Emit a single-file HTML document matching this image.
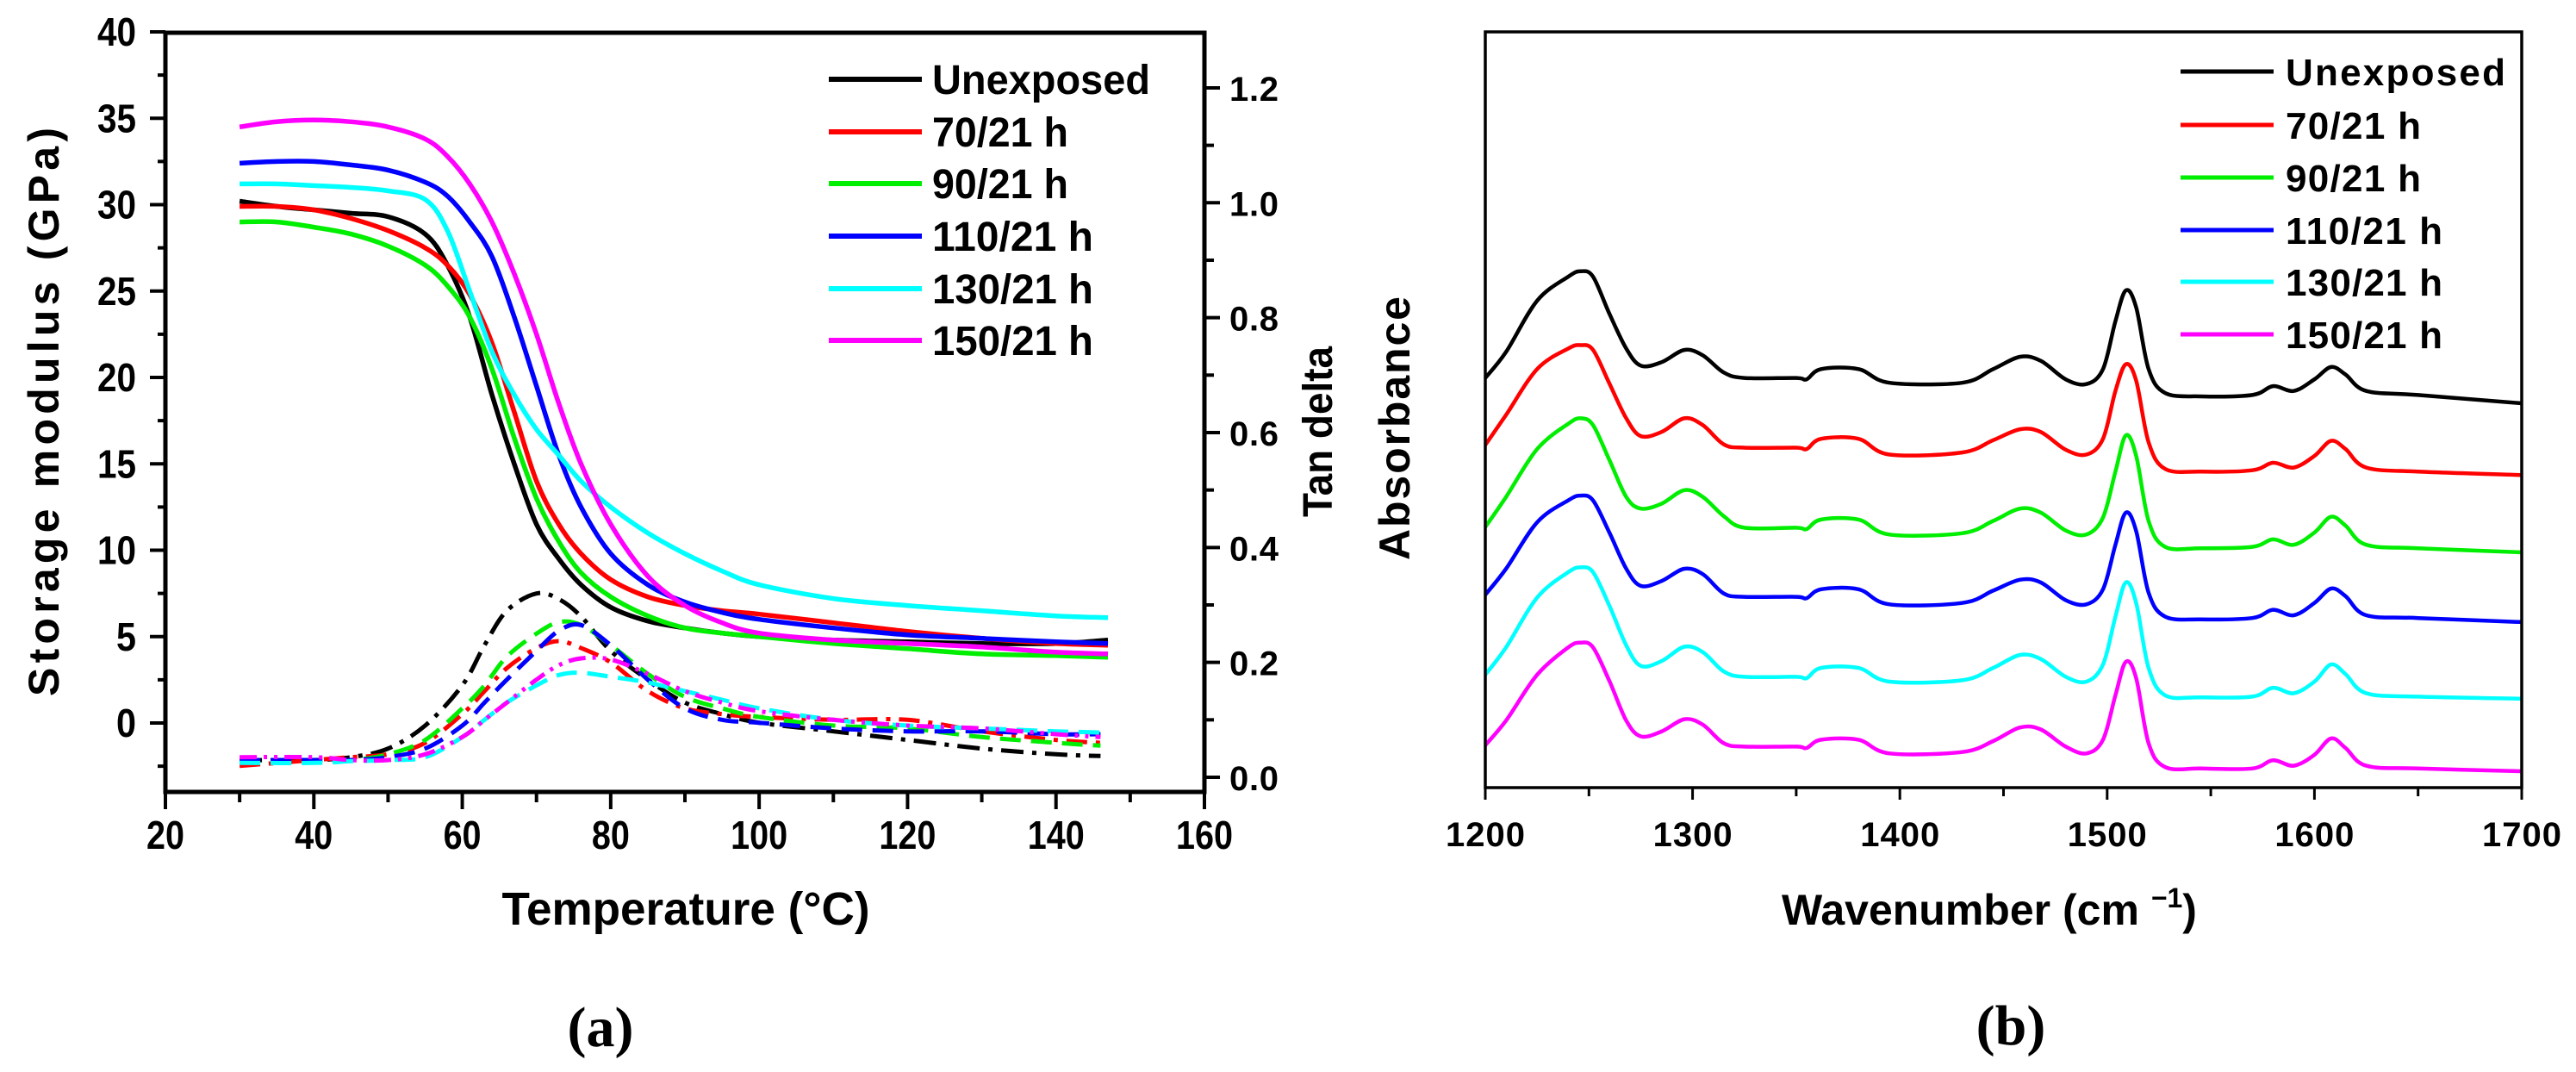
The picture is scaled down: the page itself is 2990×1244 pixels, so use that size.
<!DOCTYPE html>
<html><head><meta charset="utf-8"><style>
html,body{margin:0;padding:0;background:#fff;}
svg{display:block;}
.nar{font-family:"Liberation Sans Narrow","Liberation Sans",sans-serif;font-weight:bold;}
.wid{font-family:"Liberation Sans",sans-serif;font-weight:bold;}
.ser{font-family:"Liberation Serif",serif;font-weight:bold;}
</style></head><body>
<svg id="fig" width="2990" height="1244" viewBox="0 0 2990 1244" xmlns="http://www.w3.org/2000/svg">
<g id="chartA"></g>
<g id="chartB"></g>
</svg>
<script>
// ---------- Chart (a) data ----------
const seriesNames = ["Unexposed","70/21 h","90/21 h","110/21 h","130/21 h","150/21 h"];
const seriesColors = ["#000000","#ff0000","#00ee00","#0000ff","#00ffff","#ff00ff"];
const modTemps = [30,35,40,45,50,55,58,61,64,67,70,73,76,80,85,90,95,100,110,120,130,140,147];
const modUnexposed = [30.2,29.9,29.7,29.5,29.3,28.3,26.5,23.5,19,15,11.5,9.5,8,6.7,5.9,5.5,5.2,5.0,4.8,4.7,4.6,4.6,4.8];
const mod70 = [29.9,29.9,29.7,29.2,28.5,27.5,26.5,24.8,22,18,14,11.5,9.8,8.3,7.3,6.8,6.5,6.3,5.8,5.3,4.9,4.6,4.5];
const mod90 = [29.0,29.0,28.7,28.3,27.6,26.5,25.3,23.5,20.5,16.5,13,10.5,8.7,7.3,6.2,5.5,5.2,5.0,4.6,4.3,4.0,3.9,3.8];
const mod110 = [32.4,32.5,32.5,32.3,32.0,31.3,30.5,29,27,23.5,19.5,15.5,12.5,9.8,8,7,6.4,6.0,5.5,5.1,4.9,4.7,4.6];
const mod130 = [31.2,31.2,31.1,31.0,30.8,30.3,28.5,25,21.5,19,17,15.5,14,12.5,11,9.8,8.8,8.0,7.2,6.8,6.5,6.2,6.1];
const mod150 = [34.5,34.8,34.9,34.8,34.5,33.8,32.8,31.2,29,26,22.5,18.5,15,11.5,8.5,6.8,5.8,5.2,4.8,4.6,4.4,4.1,4.0];
const tanTemps = [30,40,45,50,55,60,63,66,70,73,76,80,85,90,95,100,110,120,130,140,146];
const tanUnexposed = [0.03,0.03,0.035,0.05,0.09,0.16,0.23,0.29,0.32,0.31,0.28,0.22,0.17,0.13,0.11,0.095,0.08,0.065,0.05,0.04,0.037];
const tan70 = [0.02,0.03,0.035,0.04,0.06,0.11,0.15,0.19,0.225,0.237,0.225,0.20,0.15,0.12,0.11,0.105,0.10,0.10,0.08,0.065,0.06];
const tan90 = [0.028,0.03,0.03,0.04,0.065,0.12,0.16,0.21,0.25,0.27,0.265,0.23,0.18,0.14,0.12,0.105,0.09,0.085,0.07,0.06,0.055];
const tan110 = [0.03,0.03,0.03,0.035,0.05,0.09,0.13,0.17,0.22,0.255,0.265,0.23,0.17,0.12,0.10,0.095,0.085,0.08,0.08,0.075,0.075];
const tan130 = [0.025,0.025,0.028,0.03,0.035,0.07,0.10,0.13,0.16,0.178,0.182,0.175,0.165,0.15,0.135,0.12,0.10,0.09,0.085,0.08,0.078];
const tan150 = [0.035,0.035,0.03,0.03,0.04,0.07,0.10,0.13,0.17,0.195,0.207,0.205,0.18,0.15,0.13,0.115,0.10,0.09,0.085,0.075,0.07];
const xTicksA = [20,40,60,80,100,120,140,160];
const yTicksA = [0,5,10,15,20,25,30,35,40];
const tanTicks = ["0.0","0.2","0.4","0.6","0.8","1.0","1.2"];

// ---------- Chart (b) data ----------
const wavenumbers = [1200,1210,1225,1240,1246,1252,1260,1268,1275,1285,1296,1305,1315,1325,1350,1355,1362,1380,1395,1430,1445,1458,1468,1480,1490,1498,1504,1509,1514,1520,1528,1545,1570,1580,1590,1600,1608,1615,1625,1650,1700];
const absUnexposed = [5.99,6.37,7.12,7.47,7.55,7.47,6.92,6.42,6.17,6.22,6.40,6.32,6.07,5.99,5.99,5.97,6.12,6.12,5.92,5.92,6.12,6.30,6.24,5.97,5.90,6.12,6.82,7.27,7.02,6.12,5.77,5.72,5.74,5.87,5.80,5.97,6.15,6.04,5.80,5.74,5.62];
const abs70 = [5.01,5.45,6.12,6.42,6.47,6.40,5.90,5.40,5.14,5.20,5.40,5.30,5.02,4.97,4.97,4.95,5.10,5.10,4.87,4.90,5.08,5.24,5.20,4.94,4.87,5.10,5.80,6.19,5.95,5.05,4.66,4.62,4.64,4.75,4.68,4.85,5.07,4.95,4.68,4.62,4.57];
const abs90 = [3.81,4.25,4.95,5.32,5.40,5.30,4.78,4.25,4.08,4.15,4.35,4.25,3.97,3.80,3.80,3.78,3.92,3.92,3.70,3.72,3.90,4.08,4.02,3.76,3.70,3.95,4.62,5.15,4.85,3.90,3.52,3.50,3.52,3.63,3.55,3.73,3.96,3.83,3.55,3.50,3.44];
const abs110 = [2.82,3.20,3.88,4.20,4.27,4.20,3.72,3.20,2.95,3.02,3.20,3.12,2.84,2.79,2.79,2.77,2.90,2.90,2.68,2.70,2.88,3.04,3.00,2.74,2.68,2.90,3.55,4.02,3.75,2.85,2.50,2.46,2.48,2.60,2.52,2.70,2.91,2.80,2.52,2.48,2.42];
const abs130 = [1.65,2.05,2.78,3.15,3.22,3.15,2.65,2.08,1.78,1.85,2.06,1.98,1.70,1.62,1.62,1.60,1.75,1.75,1.55,1.57,1.75,1.94,1.88,1.62,1.55,1.80,2.50,3.00,2.70,1.75,1.35,1.32,1.33,1.46,1.38,1.55,1.80,1.66,1.38,1.33,1.30];
const abs150 = [0.62,0.98,1.65,2.05,2.12,2.05,1.55,0.98,0.75,0.82,1.00,0.92,0.65,0.60,0.60,0.58,0.70,0.70,0.50,0.52,0.68,0.88,0.85,0.60,0.50,0.70,1.35,1.84,1.60,0.65,0.30,0.28,0.28,0.40,0.32,0.48,0.72,0.58,0.32,0.28,0.24];
const xTicksB = [1200,1300,1400,1500,1600,1700];

const NS = "http://www.w3.org/2000/svg";
function mk(parent, tag, attrs, text){
  const e = document.createElementNS(NS, tag);
  for (const k in attrs) e.setAttribute(k, attrs[k]);
  if (text !== undefined) e.textContent = text;
  parent.appendChild(e);
  return e;
}
function smoothPath(pts){
  let d = "M" + pts[0][0].toFixed(1) + "," + pts[0][1].toFixed(1);
  for (let i = 0; i < pts.length - 1; i++){
    const p0 = pts[Math.max(0,i-1)], p1 = pts[i], p2 = pts[i+1], p3 = pts[Math.min(pts.length-1,i+2)];
    const c1x = p1[0] + (p2[0]-p0[0])/6, c1y = p1[1] + (p2[1]-p0[1])/6;
    const c2x = p2[0] - (p3[0]-p1[0])/6, c2y = p2[1] - (p3[1]-p1[1])/6;
    d += " C" + c1x.toFixed(1)+","+c1y.toFixed(1)+" "+c2x.toFixed(1)+","+c2y.toFixed(1)+" "+p2[0].toFixed(1)+","+p2[1].toFixed(1);
  }
  return d;
}

// ---------- draw chart (a) ----------
(function(){
  const g = document.getElementById("chartA");
  const L = 192, R = 1398, T = 38, B = 919;
  const xA = t => L + (t - 20) / 140 * (R - L);
  const yA = v => 37 + (40 - v) * 20.05;
  const yT = v => 902 - v * 666.7;

  const modSeries = [modUnexposed, mod70, mod90, mod110, mod130, mod150];
  const tanSeries = [tanUnexposed, tan70, tan90, tan110, tan130, tan150];
  const dashes = ["26,10,5,10","24,10,5,10","24,12","24,12","24,12","20,8,4,8,4,8"];

  tanSeries.forEach((s, i) => {
    const p = mk(g, "path", {d: smoothPath(s.map((v,j)=>[xA(tanTemps[j]), yT(v)])), fill:"none", stroke: seriesColors[i], "stroke-width":5, "stroke-dasharray": dashes[i]});
    
    
  });
  modSeries.forEach((s, i) => {
    const p = mk(g, "path", {d: smoothPath(s.map((v,j)=>[xA(modTemps[j]), yA(v)])), fill:"none", stroke: seriesColors[i], "stroke-width":5.5});
    
    
  });

  const frame = mk(g, "rect", {x:L, y:T, width:R-L, height:B-T, fill:"none", stroke:"#000", "stroke-width":5});
  
  

  for (let t = 20; t <= 160; t += 10){
    const major = (t % 20 === 0);
    const tk = mk(g, "line", {x1:xA(t), x2:xA(t), y1:B, y2:B + (major?20:12), stroke:"#000", "stroke-width":4});
    
    
  }
  xTicksA.forEach(t => {
    const s = String(t);
    const lb = mk(g, "text", {x:xA(t), y:985, "text-anchor":"middle", "font-size":46, class:"nar", textLength: s.length===3?66:44, lengthAdjust:"spacingAndGlyphs"}, s);
    
    
  });
  for (let v = -2.5; v <= 40; v += 2.5){
    const major = (v % 5 === 0);
    const tk = mk(g, "line", {x1:L, x2:L - (major?18:9), y1:yA(v), y2:yA(v), stroke:"#000", "stroke-width":4});
    
    
  }
  yTicksA.forEach(v => {
    const s = String(v);
    const lb = mk(g, "text", {x:158, y:yA(v)+16, "text-anchor":"end", "font-size":46, class:"nar", textLength: s.length===2?45:23, lengthAdjust:"spacingAndGlyphs"}, s);
    
    
  });
  for (let k = 0; k <= 12; k++){
    const v = k / 10;
    const major = (k % 2 === 0);
    const tk = mk(g, "line", {x1:R, x2:R + (major?18:11), y1:yT(v), y2:yT(v), stroke:"#000", "stroke-width":4});
    
    
  }
  tanTicks.forEach(s => {
    const lb = mk(g, "text", {x:1427, y:yT(parseFloat(s))+15, "font-size":40, class:"wid", textLength:57, lengthAdjust:"spacing"}, s);
    
    
  });
  let t1 = mk(g, "text", {x:796, y:1073, "text-anchor":"middle", "font-size":54, class:"nar", textLength:427, lengthAdjust:"spacingAndGlyphs"}, "Temperature (°C)");
  
  
  let t2 = mk(g, "text", {x:0, y:0, transform:"translate(68,478) rotate(-90)", "text-anchor":"middle", "font-size":50, class:"wid", textLength:660, lengthAdjust:"spacing"}, "Storage modulus (GPa)");
  
  
  let t3 = mk(g, "text", {x:0, y:0, transform:"translate(1546,501) rotate(-90)", "text-anchor":"middle", "font-size":48, class:"nar", textLength:198, lengthAdjust:"spacingAndGlyphs"}, "Tan delta");
  
  
  let t4 = mk(g, "text", {x:697, y:1214, "text-anchor":"middle", "font-size":66, class:"ser"}, "(a)");
  
  

  const rowsY = [92,153,213,274,335,395];
  const lens = [253,158,158,187,187,187];
  seriesNames.forEach((n, i) => {
    const lg = mk(g, "g", {});
    
    
    mk(lg, "line", {x1:962, x2:1070, y1:rowsY[i], y2:rowsY[i], stroke:seriesColors[i], "stroke-width":6});
    mk(lg, "text", {x:1082, y:rowsY[i]+17, "font-size":48, class:"nar", textLength:lens[i], lengthAdjust:"spacingAndGlyphs"}, n);
  });
})();

// ---------- draw chart (b) ----------
(function(){
  const g = document.getElementById("chartB");
  const L = 1724, R = 2927, T = 37, B = 914;
  const xB = w => L + (w - 1200) / 500 * (R - L);
  const yB = v => B - v / 11.05 * (B - T);
  const absSeries = [absUnexposed, abs70, abs90, abs110, abs130, abs150];
  absSeries.forEach((s, i) => {
    const p = mk(g, "path", {d: smoothPath(s.map((v,j)=>[xB(wavenumbers[j]), yB(v)])), fill:"none", stroke: seriesColors[i], "stroke-width":4.5});
    
    
  });
  const frame = mk(g, "rect", {x:L, y:T, width:R-L, height:B-T, fill:"none", stroke:"#000", "stroke-width":3.5});
  
  
  for (let w = 1200; w <= 1700; w += 50){
    const tk = mk(g, "line", {x1:xB(w), x2:xB(w), y1:B, y2:B + (w % 100 === 0 ? 14 : 10), stroke:"#000", "stroke-width":3});
    
    
  }
  xTicksB.forEach(w => {
    const lb = mk(g, "text", {x:xB(w), y:982, "text-anchor":"middle", "font-size":40, class:"wid", textLength:92, lengthAdjust:"spacing"}, String(w));
    
    
  });
  const xt = mk(g, "text", {x:2068, y:1073, "font-size":50, class:"wid"});
  
  
  xt.innerHTML = 'Wavenumber (cm <tspan dy="-20" font-size="32">−1</tspan><tspan dy="20">)</tspan>';
  const yt = mk(g, "text", {x:0, y:0, transform:"translate(1636,497) rotate(-90)", "text-anchor":"middle", "font-size":50, class:"wid", textLength:306, lengthAdjust:"spacing"}, "Absorbance");
  
  
  const pl = mk(g, "text", {x:2334, y:1212, "text-anchor":"middle", "font-size":66, class:"ser"}, "(b)");
  
  
  const rowsY = [83,145,206,267,327,388];
  const lens = [255,157,157,182,182,182];
  seriesNames.forEach((n, i) => {
    const lg = mk(g, "g", {});
    
    
    mk(lg, "line", {x1:2531, x2:2639, y1:rowsY[i], y2:rowsY[i], stroke:seriesColors[i], "stroke-width":5});
    mk(lg, "text", {x:2653, y:rowsY[i]+16, "font-size":44, class:"wid", textLength:lens[i], lengthAdjust:"spacing"}, n);
  });
})();
</script>
</body></html>
